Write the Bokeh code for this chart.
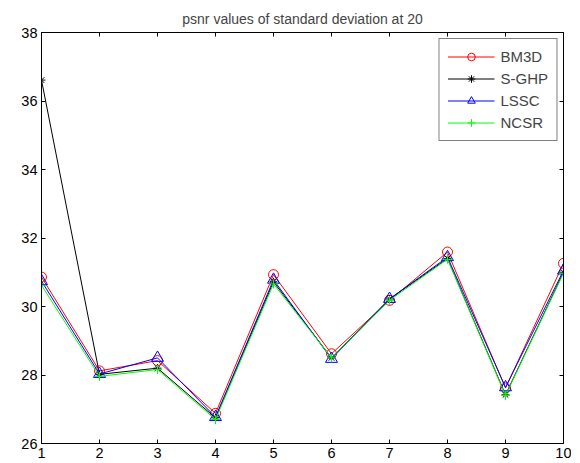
from bokeh.plotting import figure
from bokeh.models import LinearAxis, FixedTicker, Range1d
from bokeh.embed import file_html
from bokeh.resources import INLINE

x = [1, 2, 3, 4, 5, 6, 7, 8, 9, 10]
bm3d = [30.86, 28.12, 28.42, 26.88, 30.93, 28.62, 30.18, 31.59, 27.62, 31.26]
sghp = [36.61, 28.02, 28.20, 26.75, 30.72, 28.50, 30.22, 31.40, 27.42, 31.00]
lssc = [30.74, 28.03, 28.50, 26.77, 30.78, 28.47, 30.22, 31.44, 27.64, 31.05]
ncsr = [30.62, 27.96, 28.16, 26.70, 30.66, 28.50, 30.18, 31.38, 27.40, 30.97]
x_ticks = [1, 2, 3, 4, 5, 6, 7, 8, 9, 10]
y_ticks = [26, 28, 30, 32, 34, 36, 38]
title = "psnr values of standard deviation at 20"

FONT = "Liberation Sans"

p = figure(width=571, height=460, output_backend="svg", toolbar_location=None,
           x_range=Range1d(1, 10), y_range=Range1d(26, 38),
           min_border_left=41, min_border_right=8, min_border_top=32, min_border_bottom=17)
p.title.text = title
p.title.align = "center"
p.title.text_font = FONT
p.title.text_font_style = "normal"
p.title.text_font_size = "14px"
p.title.offset = 0
p.title.standoff = 12

p.xgrid.visible = False
p.ygrid.visible = False
p.outline_line_color = "black"
p.outline_line_width = 1
p.background_fill_color = "white"
p.border_fill_color = "white"

for ax, ticks in ((p.xaxis[0], x_ticks), (p.yaxis[0], y_ticks)):
    ax.ticker = FixedTicker(ticks=ticks)
    ax.major_tick_in = 4
    ax.major_tick_out = 0
    ax.minor_tick_line_color = None
    ax.axis_line_color = "black"
    ax.major_label_text_font = FONT
    ax.major_label_text_font_size = "14.5px"
    ax.major_label_text_color = "black"
    ax.major_label_standoff = 4

top = LinearAxis(ticker=FixedTicker(ticks=x_ticks), major_tick_in=4, major_tick_out=0,
                 minor_tick_line_color=None, major_label_standoff=0,
                 major_label_text_font_size="1px",
                 major_label_overrides={t: "" for t in x_ticks})
right = LinearAxis(ticker=FixedTicker(ticks=y_ticks), major_tick_in=4, major_tick_out=0,
                   minor_tick_line_color=None, major_label_standoff=0,
                   major_label_overrides={t: "" for t in y_ticks})
p.add_layout(top, "above")
p.add_layout(right, "right")

series = [
    ("BM3D", bm3d, "#ff0000", "circle", 10),
    ("S-GHP", sghp, "#000000", "asterisk", 8),
    ("LSSC", lssc, "#0000ff", "triangle", 12),
    ("NCSR", ncsr, "#00ff00", "cross", 9),
]
for name, ys, col, mk, sz in series:
    p.line(x, ys, line_color=col, line_width=1, legend_label=name)
    p.scatter(x, ys, marker=mk, size=sz, line_color=col, fill_color=None,
              line_width=1, legend_label=name)

lg = p.legend[0]
lg.location = "top_right"
lg.margin = 6
lg.border_line_color = "black"
lg.border_line_width = 1
lg.background_fill_alpha = 1
lg.label_text_font = FONT
lg.label_text_font_size = "15px"
lg.glyph_width = 47
lg.glyph_height = 19
lg.label_height = 19
lg.spacing = 3
lg.padding = 8
lg.label_standoff = 6

open("out.html", "w").write(file_html(p, INLINE))
